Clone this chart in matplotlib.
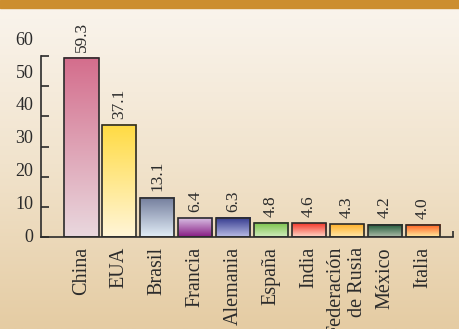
"""
Producción por país (barras con degradado) sobre fondo beige.
"""
import matplotlib
matplotlib.use('Agg')
import matplotlib.pyplot as plt
import numpy as np
from matplotlib.colors import LinearSegmentedColormap

countries = ['China', 'EUA', 'Brasil', 'Francia', 'Alemania', 'España', 'India',
             'Federación\nde Rusia', 'México', 'Italia']
values = [59.3, 37.1, 13.1, 6.4, 6.3, 4.8, 4.6, 4.3, 4.2, 4.0]
value_labels = ['59.3', '37.1', '13.1', '6.4', '6.3', '4.8', '4.6', '4.3', '4.2', '4.0']
y_ticks = [0, 10, 20, 30, 40, 50, 60]

# (top colour, bottom colour) of each bar's gradient
bar_colors = [('#d46d8c', '#e9d8de'), ('#ffdb42', '#fff5d8'), ('#737d9c', '#e2edf7'),
              ('#dcc6e8', '#861a82'), ('#30378c', '#bbbde6'), ('#76c046', '#d2ecbe'),
              ('#f2362a', '#ffd8c8'), ('#ffb028', '#ffe8ac'), ('#1d5836', '#aebcaa'),
              ('#ff5818', '#ffeca2')]

serif = ['Liberation Serif', 'DejaVu Serif']
ink = '#2b2b2b'


def main():
    fig = plt.figure(figsize=(4.6, 3.29), dpi=100)

    # background gradient + top strip
    bg = fig.add_axes([0, 0, 1, 1], zorder=-2)
    grad = np.linspace(0, 1, 256).reshape(-1, 1)
    bg_cmap = LinearSegmentedColormap.from_list('bg', ['#faf5ee', '#f1e3cc', '#e5cca3'])
    bg.imshow(grad, cmap=bg_cmap, aspect='auto', extent=[0, 1, 0, 1], origin='upper')
    bg.axhspan(1 - 7.5 / 329, 1, color='#cc8e2f')
    bg.set_xlim(0, 1)
    bg.set_ylim(0, 1)
    bg.axis('off')

    ax = fig.add_axes([40.7 / 460, (329 - 237.3) / 329, (453 - 40.7) / 460, (237.3 - 56) / 329])
    ax.patch.set_alpha(0)
    x = np.arange(len(values))
    width = 0.9
    ax.set_xlim(-1.077, 9.80)
    ax.set_ylim(0, 60)

    for xi, v, (top, bottom) in zip(x, values, bar_colors):
        cmap = LinearSegmentedColormap.from_list('b', [bottom, top])
        ax.imshow(grad, cmap=cmap, aspect='auto', origin='lower',
                  extent=[xi - width / 2, xi + width / 2, 0, v], zorder=2)
    ax.bar(x, values, width=width, fill=False, edgecolor=ink, linewidth=1.2, zorder=3)
    ax.set_xlim(-1.077, 9.80)
    ax.set_ylim(0, 60)

    for xi, v, lab in zip(x, values, value_labels):
        ax.annotate(lab, (xi, v), xytext=(0, 4.5), textcoords='offset points',
                    rotation=90, ha='center', va='bottom', fontsize=12.5,
                    family=serif, color=ink)

    for s in ['top', 'right']:
        ax.spines[s].set_visible(False)
    for s in ['left', 'bottom']:
        ax.spines[s].set_color(ink)
        ax.spines[s].set_linewidth(1.2)

    ax.set_yticks(y_ticks)
    ax.set_yticklabels([])
    ax.tick_params(axis='y', direction='in', length=6, width=1.2, color=ink)
    # tick labels in the original sit slightly higher than their ticks
    for t in y_ticks:
        ax.text(-0.018, t * 1.087, str(t), transform=ax.get_yaxis_transform(),
                ha='right', va='center', fontsize=13, family=serif, color=ink,
                clip_on=False)

    ax.set_xticks(x)
    ax.set_xticklabels(countries, rotation=90, fontsize=14.5, family=serif,
                       color=ink, multialignment='right')
    ax.tick_params(axis='x', length=0, pad=7)
    ax.set_xticks([9.80], minor=True)
    ax.tick_params(axis='x', which='minor', direction='in', length=4, width=1.2, color=ink)

    fig.savefig('out.png', dpi=100)
    plt.close(fig)


if __name__ == "__main__":
    main()
